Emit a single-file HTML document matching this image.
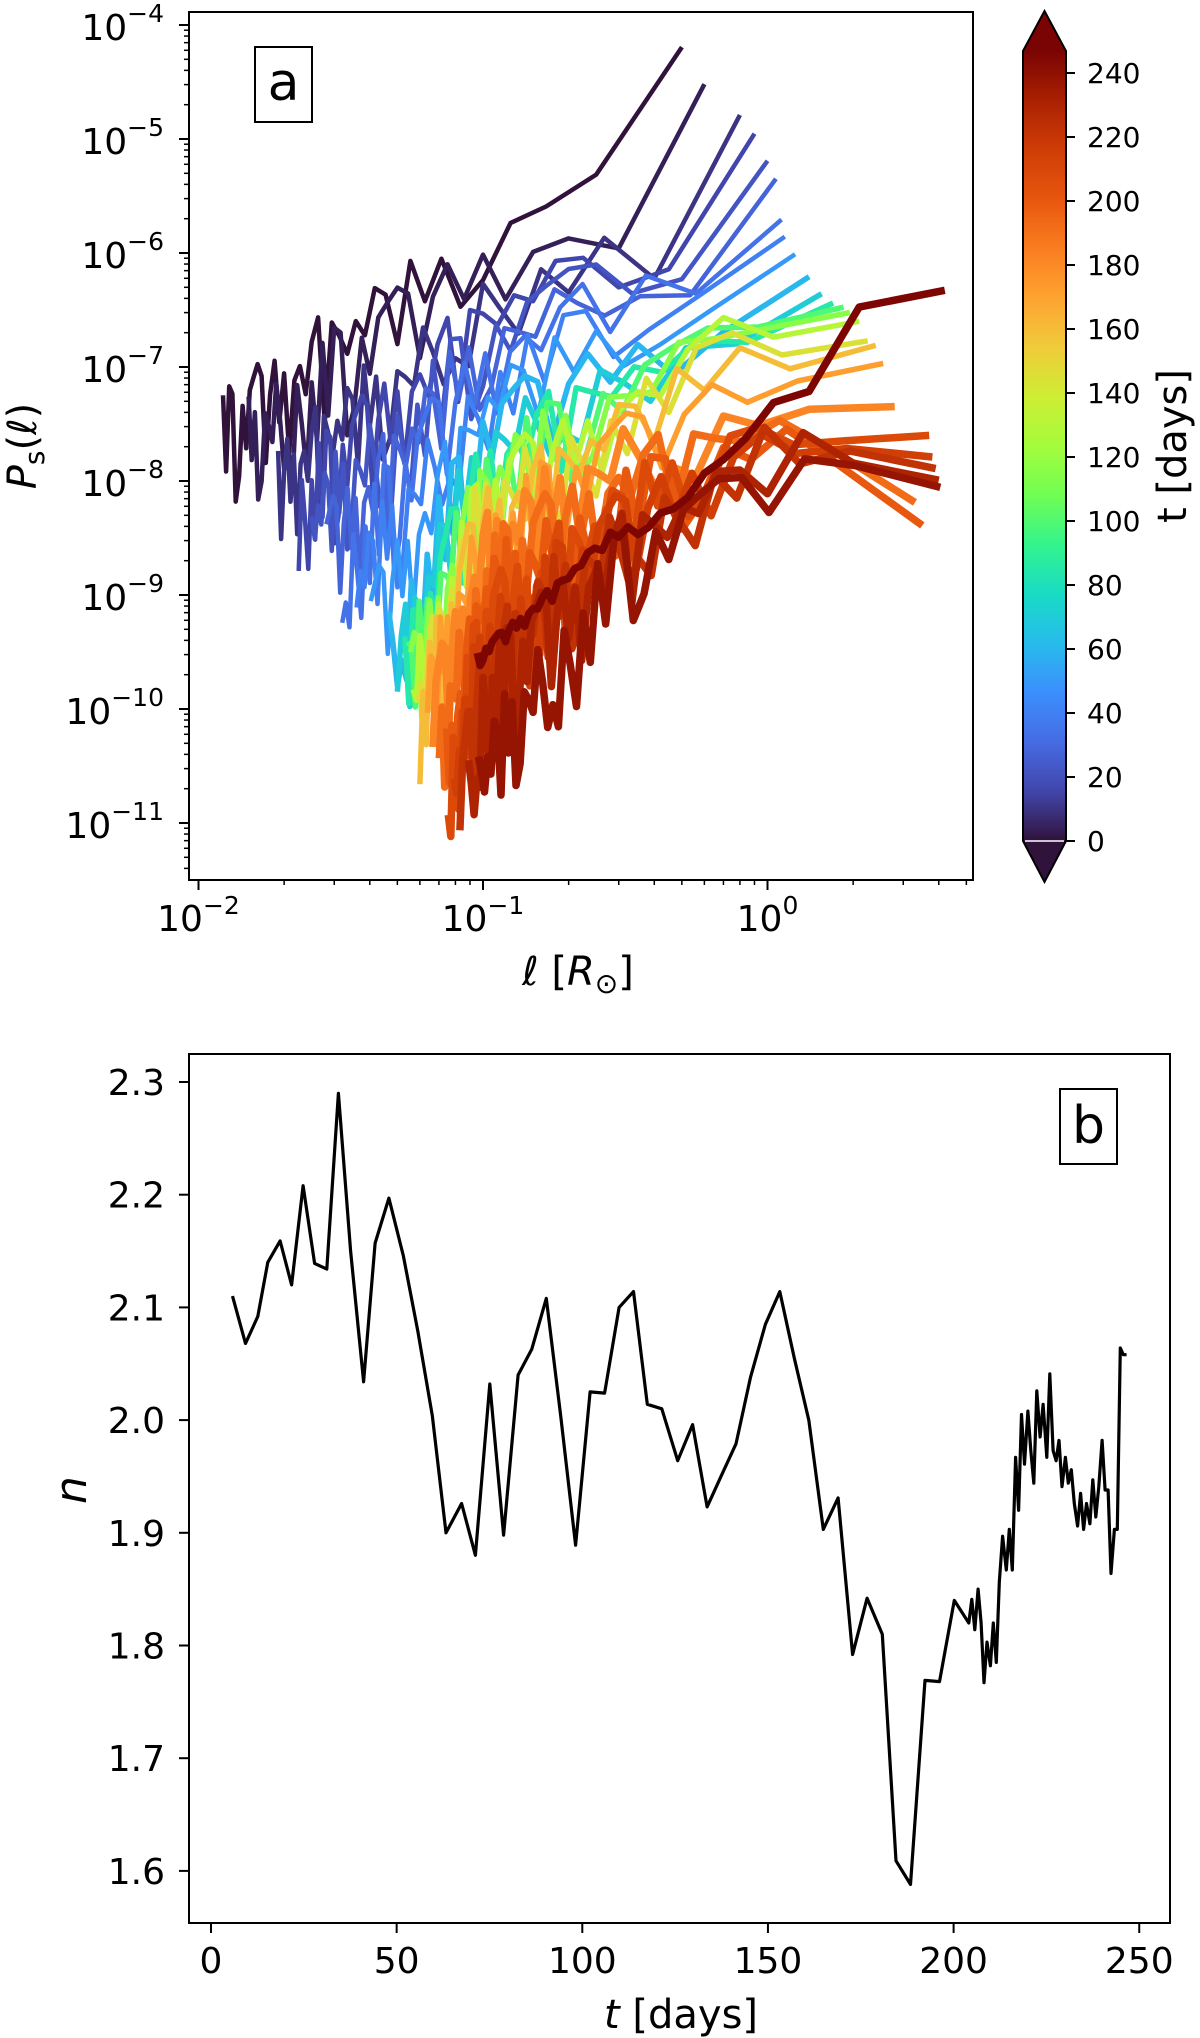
<!DOCTYPE html>
<html><head><meta charset="utf-8"><style>
html,body{margin:0;padding:0;background:#fff;}
svg{display:block;font-family:"DejaVu Sans","Liberation Sans",sans-serif;}
</style></head><body>
<svg id="fig" width="1200" height="2038" viewBox="0 0 1200 2038" xmlns="http://www.w3.org/2000/svg">
<defs>
<clipPath id="clipA"><rect x="189" y="12" width="784" height="868"/></clipPath>
<clipPath id="clipB"><rect x="189" y="1054" width="981" height="869"/></clipPath>
<linearGradient id="cbgrad" x1="0" y1="1" x2="0" y2="0"></linearGradient>
</defs>
<g id="panelA"></g>
<g id="panelB"></g>
</svg>
<script>
// ---------------- Panel a data ----------------
const curveTimes = [0,4,10,16,22,28,34,40,50,60,70,85,100,115,130,145,160,172,182,192,200,208,215,222,230,238,246];
const curveLmax = [0.5,0.6,0.8,0.9,1.0,1.07,1.12,1.15,1.25,1.4,1.55,1.7,1.85,1.95,2.1,2.25,2.4,2.55,2.8,3.3,3.5,3.7,3.8,3.9,4.0,4.05,4.2];
const curveAnchors = [
 [[-1.91,-7.6],[-1.5,-6.8],[-1.0,-6.0],[-0.6,-5.3],[-0.3,-4.2]],
 [[-1.82,-7.7],[-1.5,-7.0],[-1.0,-6.1],[-0.6,-5.85],[-0.4,-6.1],[-0.3,-5.6],[-0.22,-4.5]],
 [[-1.72,-8.0],[-1.3,-7.2],[-1.0,-6.4],[-0.6,-6.0],[-0.3,-6.3],[-0.1,-4.8]],
 [[-1.65,-8.2],[-1.0,-6.6],[-0.6,-6.1],[-0.25,-6.2],[-0.05,-4.95]],
 [[-1.6,-8.4],[-1.0,-6.8],[-0.5,-6.1],[-0.2,-6.3],[0.0,-5.2]],
 [[-1.55,-8.6],[-1.0,-6.9],[-0.5,-6.2],[-0.15,-6.4],[0.03,-5.35]],
 [[-1.5,-8.8],[-1.0,-7.0],[-0.5,-6.3],[-0.1,-6.4],[0.05,-5.7]],
 [[-1.45,-9.0],[-1.0,-7.2],[-0.5,-6.5],[-0.05,-6.3],[0.06,-5.85]],
 [[-1.4,-9.3],[-1.0,-7.4],[-0.5,-6.7],[0.0,-6.4],[0.1,-6.0]],
 [[-1.33,-9.5],[-1.0,-7.6],[-0.5,-6.9],[0.0,-6.6],[0.15,-6.2]],
 [[-1.3,-9.65],[-1.0,-7.8],[-0.5,-7.0],[0.0,-6.7],[0.2,-6.35]],
 [[-1.28,-9.75],[-1.0,-7.9],[-0.5,-7.1],[0.0,-6.75],[0.25,-6.4]],
 [[-1.27,-9.8],[-1.0,-8.0],[-0.5,-7.2],[-0.1,-6.7],[0.1,-6.6],[0.28,-6.45]],
 [[-1.26,-9.85],[-1.0,-8.1],[-0.5,-7.3],[-0.1,-6.6],[0.15,-6.7],[0.3,-6.5]],
 [[-1.25,-9.9],[-1.0,-8.2],[-0.5,-7.35],[-0.1,-6.65],[0.15,-6.75],[0.33,-6.6]],
 [[-1.23,-9.95],[-1.0,-8.3],[-0.5,-7.45],[-0.1,-6.8],[0.2,-6.9],[0.36,-6.75]],
 [[-1.22,-10.0],[-1.0,-8.4],[-0.5,-7.55],[-0.1,-6.95],[0.2,-7.0],[0.38,-6.8]],
 [[-1.2,-10.0],[-1.0,-8.55],[-0.5,-7.7],[-0.1,-7.2],[0.2,-7.1],[0.41,-6.95]],
 [[-1.18,-10.1],[-1.0,-8.7],[-0.5,-7.8],[0.0,-7.4],[0.2,-7.3],[0.45,-7.35]],
 [[-1.15,-10.3],[-1.0,-8.9],[-0.5,-8.0],[0.0,-7.5],[0.15,-7.6],[0.52,-8.2]],
 [[-1.13,-10.5],[-1.0,-9.1],[-0.5,-8.2],[0.0,-7.6],[0.15,-7.7],[0.54,-8.4]],
 [[-1.12,-10.6],[-1.0,-9.3],[-0.5,-8.3],[0.0,-7.5],[0.15,-7.7],[0.57,-7.6]],
 [[-1.1,-10.7],[-1.0,-9.5],[-0.5,-8.4],[0.0,-7.6],[0.15,-7.7],[0.58,-7.8]],
 [[-1.08,-10.8],[-1.0,-9.7],[-0.5,-8.5],[0.0,-7.7],[0.15,-7.7],[0.59,-7.9]],
 [[-1.05,-10.8],[-1.0,-9.9],[-0.5,-8.6],[0.0,-7.9],[0.15,-7.75],[0.6,-8.0]],
 [[-1.02,-10.7],[-0.8,-9.8],[-0.5,-8.7],[0.0,-8.0],[0.15,-7.8],[0.61,-8.05]],
 [[-1.02,-9.55],[-0.81,-9.1],[-0.57,-8.53],[-0.33,-8.25],[-0.11,-7.7],[0.0,-7.25],[0.1,-7.33],[0.29,-6.52],[0.62,-6.3]]
];
const jitter = [0.0,0.6,-0.4,0.8,-0.9,0.3,-0.2,0.9,-0.7,0.1,0.5,-1.0,0.4,-0.3,0.7,-0.6,0.2,0.9,-0.8,0.0,-0.5,0.6,-0.9,0.8,-0.2,0.3,-0.7,1.0,-0.4,0.2,-0.6,0.7,-1.0,0.5,0.1,-0.3,0.8,-0.8,0.4,-0.1,0.6,-0.9,0.3,0.9,-0.5,-0.2,0.7,-0.7,0.2,0.5];
const xTickExpA = [-2,-1,0];
const yTickExpA = [-4,-5,-6,-7,-8,-9,-10,-11];
const cbTicks = [0,20,40,60,80,100,120,140,160,180,200,220,240];

// ---------------- Panel b data ----------------
const tDays = [5.8,9.3,12.6,15.3,18.6,21.7,24.8,27.9,31.2,34.3,37.6,41.1,44.2,47.9,51.8,55.7,59.6,63.3,67.5,71.2,75.1,78.8,82.7,86.4,90.3,94.2,98.2,102.1,106.0,109.9,113.8,117.5,121.4,125.7,129.7,133.6,137.5,141.4,145.3,149.3,153.2,157.1,161.0,164.9,168.9,172.8,176.7,180.8,184.5,188.4,192.3,196.2,200.2,204.1,204.9,205.7,206.6,207.4,208.2,209.0,209.9,210.7,211.5,212.3,213.2,214.2,215.0,215.8,216.7,217.5,218.3,219.1,220.0,220.8,221.6,222.4,223.3,224.1,225.1,225.9,226.8,227.6,228.4,229.2,230.1,230.9,231.7,232.5,233.4,234.2,235.0,235.8,236.7,237.5,238.3,239.1,240.0,240.8,241.6,242.4,243.3,244.1,244.9,245.7,246.6];
const nIndex = [2.110,2.068,2.092,2.140,2.159,2.120,2.208,2.139,2.134,2.290,2.150,2.034,2.157,2.197,2.146,2.079,2.004,1.900,1.926,1.880,2.032,1.898,2.040,2.063,2.108,2.003,1.889,2.025,2.024,2.100,2.114,2.014,2.010,1.964,1.996,1.923,1.951,1.979,2.038,2.085,2.114,2.055,2.000,1.903,1.931,1.792,1.842,1.810,1.609,1.588,1.769,1.768,1.840,1.820,1.841,1.814,1.850,1.820,1.767,1.803,1.782,1.820,1.785,1.856,1.897,1.867,1.903,1.867,1.967,1.920,2.005,1.961,2.008,1.973,1.944,2.026,1.985,2.014,1.967,2.041,1.973,1.964,1.982,1.941,1.967,1.944,1.956,1.926,1.906,1.935,1.903,1.926,1.908,1.947,1.914,1.941,1.982,1.938,1.938,1.864,1.903,1.903,2.064,2.058,2.058];
const xTicksB = [0,50,100,150,200,250];
const yTicksB = [1.6,1.7,1.8,1.9,2.0,2.1,2.2,2.3];

const NS = "http://www.w3.org/2000/svg";
function mk(tag, attrs, parent){const e=document.createElementNS(NS,tag);for(const k in attrs)e.setAttribute(k,attrs[k]);if(parent)parent.appendChild(e);return e;}

const TURBO=[[48,18,59],[65,69,171],[70,107,227],[59,142,253],[40,187,236],[24,219,197],[51,244,140],[112,254,83],[164,252,60],[206,237,52],[240,203,58],[254,163,49],[250,125,32],[231,86,14],[207,61,6],[170,32,2],[122,4,3]];
function turbo(x){x=Math.max(0,Math.min(1,x));const f=x*(TURBO.length-1);const i=Math.min(TURBO.length-2,Math.floor(f));const r=f-i;
 const a=TURBO[i],b=TURBO[i+1];return `rgb(${Math.round(a[0]+(b[0]-a[0])*r)},${Math.round(a[1]+(b[1]-a[1])*r)},${Math.round(a[2]+(b[2]-a[2])*r)})`;}

// ---------- Panel a axes ----------
const A = document.getElementById('panelA');
const ax0=189, ax1=973, ay0=12, ay1=880;
const xA = lg => 483 + 284.5*(lg+1);
const yA = lp => 25 + 114*(-4 - lp);
const tMax = 247;

const lines = mk('g',{'clip-path':'url(#clipA)'},A);



function interp(anch, u){
  if(u<=anch[0][0]) return anch[0][1];
  for(let i=1;i<anch.length;i++){ if(u<=anch[i][0]){const a=anch[i-1],b=anch[i];return a[1]+(b[1]-a[1])*(u-a[0])/(b[0]-a[0]);} }
  return anch[anch.length-1][1];
}
curveTimes.forEach((t,ci)=>{
  const anch=curveAnchors[ci], L=curveLmax[ci];
  const lmin=Math.pow(10,anch[0][0]);
  const N=Math.max(2,Math.round(L/lmin));
  const last = ci===curveTimes.length-1;
  const pts=[];
  for(let k=1;k<=N;k++){
    const u=Math.log10(L/k);
    if(u<anch[0][0]-0.01) break;
    let v=interp(anch,u);
    const frac=Math.min(1,(Math.log10(L)-u)/1.3);
    let amp = last?0.06:(0.06+0.38*frac)*(k<=2?0.2:1);
    let j=jitter[(k*3+ci*7)%jitter.length];
    if(j<0) j*=1.5;
    v+=j*amp;
    pts.push(xA(u).toFixed(1)+','+yA(v).toFixed(1));
  }
  const w = last?7.5:(t<60?4.5:(t<180?5.5:7.5));
  const p=mk('polyline',{points:pts.join(' '),fill:'none',stroke:turbo(t/tMax),'stroke-width':w,'stroke-linejoin':'round'},lines);
  
  
});

const frameA=mk('rect',{x:ax0,y:ay0,width:ax1-ax0,height:ay1-ay0,fill:'none',stroke:'#000','stroke-width':2},A);



xTickExpA.forEach(e=>{
  const x=xA(e);
  mk('line',{x1:x,y1:ay1,x2:x,y2:ay1+10,stroke:'#000','stroke-width':2},A);
  const tx=mk('text',{x:x,y:931,'text-anchor':'middle','font-size':36},A);
  
  
  tx.innerHTML='10<tspan dy="-17" font-size="25">'+(e<0?'\u2212'+(-e):e)+'</tspan>';
});
for(let e=-2;e<=0;e++){for(let m=2;m<=9;m++){const u=e+Math.log10(m);const x=xA(u);if(x>ax1)continue;mk('line',{x1:x,y1:ay1,x2:x,y2:ay1+5,stroke:'#000','stroke-width':1.5},A);}}
for(let m=1;m<=9;m++){const x=xA(-3+Math.log10(m));if(x>ax0)mk('line',{x1:x,y1:ay1,x2:x,y2:ay1+5,stroke:'#000','stroke-width':1.5},A);}
yTickExpA.forEach(e=>{
  const y=yA(e);
  mk('line',{x1:ax0-10,y1:y,x2:ax0,y2:y,stroke:'#000','stroke-width':2},A);
  const tx=mk('text',{x:164,y:y+15,'text-anchor':'end','font-size':36},A);
  
  
  tx.innerHTML='10<tspan dy="-18" font-size="25">\u2212'+(-e)+'</tspan>';
});
for(let e=-12;e<=-5;e++){for(let m=2;m<=9;m++){const y=yA(e+Math.log10(m));if(y<ay0||y>ay1)continue;mk('line',{x1:ax0-5,y1:y,x2:ax0,y2:y,stroke:'#000','stroke-width':1.5},A);}}

const ylA=mk('text',{x:0,y:0,transform:'translate(36,446) rotate(-90)','text-anchor':'middle','font-size':40},A);


ylA.innerHTML='<tspan font-style="italic">P</tspan><tspan font-size="28" dy="8">s</tspan><tspan dy="-8">(</tspan><tspan font-style="italic">\u2113</tspan>)';
const xlA=mk('text',{x:578,y:985,'text-anchor':'middle','font-size':40},A);


xlA.innerHTML='<tspan font-style="italic">\u2113</tspan> [<tspan font-style="italic">R</tspan><tspan font-size="28" dy="8">\u2299</tspan><tspan dy="-8">]</tspan>';

const boxA=mk('rect',{x:255,y:47,width:57,height:75,fill:'#fff',stroke:'#000','stroke-width':2},A);


const lblA=mk('text',{x:283.5,y:100,'text-anchor':'middle','font-size':52},A);


lblA.textContent='a';

const grad=document.getElementById('cbgrad');
for(let i=0;i<=32;i++){mk('stop',{offset:(i/32),'stop-color':turbo(i/32)},grad);}
const cbx0=1023, cbx1=1066, cby0=841, cbTop=51;
const cbY = v => cby0 - 3.2*v;
const cb=mk('g',{},A);


mk('polygon',{points:`${cbx0},${cbTop} ${cbx1},${cbTop} ${(cbx0+cbx1)/2},11`,fill:turbo(1)},cb);
mk('polygon',{points:`${cbx0},${cby0} ${cbx1},${cby0} ${(cbx0+cbx1)/2},882`,fill:turbo(0)},cb);
mk('rect',{x:cbx0,y:cbTop,width:cbx1-cbx0,height:cby0-cbTop,fill:'url(#cbgrad)'},cb);
mk('line',{x1:cbx0+2,y1:cby0,x2:cbx1-2,y2:cby0,stroke:'#fff','stroke-width':1.5},cb);
mk('polygon',{points:`${cbx0},${cbTop} ${(cbx0+cbx1)/2},11 ${cbx1},${cbTop} ${cbx1},${cby0} ${(cbx0+cbx1)/2},882 ${cbx0},${cby0}`,fill:'none',stroke:'#000','stroke-width':2},cb);
cbTicks.forEach(v=>{
  const y=cbY(v);
  mk('line',{x1:cbx1,y1:y,x2:cbx1+9,y2:y,stroke:'#000','stroke-width':2},cb);
  const tx=mk('text',{x:1087,y:y+10,'font-size':28},cb);
  
  
  tx.textContent=v;
});
const cbl=mk('text',{x:0,y:0,transform:'translate(1186,446) rotate(-90)','text-anchor':'middle','font-size':40},cb);


cbl.textContent='t [days]';

// ---------- Panel b ----------
const B=document.getElementById('panelB');
const bx0=189,bx1=1170,by0=1054,by1=1923;
const xB = t => 211 + 3.713*t;
const yB = n => 1082 + 1127*(2.3-n);
const pb=mk('polyline',{points:tDays.map((t,i)=>xB(t).toFixed(1)+','+yB(nIndex[i]).toFixed(1)).join(' '),fill:'none',stroke:'#000','stroke-width':3.2,'stroke-linejoin':'round','clip-path':'url(#clipB)'},B);


const frameB=mk('rect',{x:bx0,y:by0,width:bx1-bx0,height:by1-by0,fill:'none',stroke:'#000','stroke-width':2},B);


xTicksB.forEach(v=>{
  const x=xB(v);
  mk('line',{x1:x,y1:by1,x2:x,y2:by1+10,stroke:'#000','stroke-width':2},B);
  const tx=mk('text',{x:x,y:1973,'text-anchor':'middle','font-size':36},B);
  
  
  tx.textContent=v;
});
yTicksB.forEach(v=>{
  const y=yB(v);
  mk('line',{x1:bx0-10,y1:y,x2:bx0,y2:y,stroke:'#000','stroke-width':2},B);
  const tx=mk('text',{x:165,y:y+13,'text-anchor':'end','font-size':36},B);
  
  
  tx.textContent=v.toFixed(1);
});
const xlB=mk('text',{x:681,y:2028,'text-anchor':'middle','font-size':40},B);


xlB.innerHTML='<tspan font-style="italic">t</tspan> [days]';
const ylB=mk('text',{x:0,y:0,transform:'translate(86,1490) rotate(-90)','text-anchor':'middle','font-size':44,'font-style':'italic'},B);


ylB.textContent='n';
const boxB=mk('rect',{x:1060,y:1089,width:57,height:75,fill:'#fff',stroke:'#000','stroke-width':2},B);


const lblB=mk('text',{x:1088.5,y:1143,'text-anchor':'middle','font-size':52},B);


lblB.textContent='b';
</script>
</body></html>
